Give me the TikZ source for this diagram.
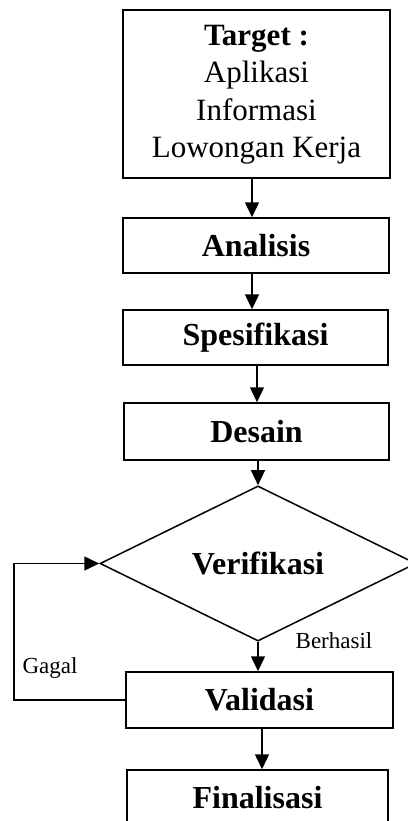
\documentclass[tikz,border=0pt]{standalone}
\usepackage{fontspec}
\setmainfont{Liberation Serif}
\usetikzlibrary{shapes.geometric,arrows.meta}
\begin{document}
\begin{tikzpicture}[x=1pt,y=-1pt,
  box/.style={draw,line width=1.5pt,rectangle,inner sep=0pt,align=center,
    font=\fontsize{32}{37.5}\selectfont},
  arr/.style={line width=1.5pt,-{Triangle[length=15pt,width=14pt]}},
  lbl/.style={font=\fontsize{23}{27}\selectfont,inner sep=0pt}]
\useasboundingbox (0,0) rectangle (407,821);
\node[box,minimum width=267pt,minimum height=168pt,font=\fontsize{31}{37.5}\selectfont] (t) at (256.5,94)
  {\raisebox{-4pt}{\begin{tabular}{@{}c@{}}\textbf{Target :}\\Aplikasi\\Informasi\\Lowongan Kerja\end{tabular}}};
\node[box,minimum width=266pt,minimum height=55pt] (an) at (256,245.5) {\textbf{Analisis}};
\node[box,minimum width=265pt,minimum height=55pt] (sp) at (255.5,337.5) {\textbf{Spesifikasi}};
\node[box,minimum width=265pt,minimum height=57pt] (de) at (256.5,431.5) {\textbf{Desain}};
\node[draw,line width=1.5pt,diamond,inner sep=0pt,minimum width=316pt,minimum height=133pt,
  font=\fontsize{32}{37.5}\selectfont] (ve) at (258,563.5) {\textbf{Verifikasi}};
\node[box,minimum width=267pt,minimum height=56pt] (va) at (259.5,700) {\textbf{Validasi}};
\node[box,minimum width=261pt,minimum height=56pt] (fi) at (257.5,798) {\textbf{Finalisasi}};
\draw[arr] ([xshift=-4.5pt]t.south) -- ([xshift=-4pt]an.north);
\draw[arr] ([xshift=-4pt]an.south) -- ([xshift=-3.5pt]sp.north);
\draw[arr] ([xshift=1.5pt]sp.south) -- ([xshift=0.5pt]de.north);
\draw[arr] ([xshift=1.5pt]de.south) -- (ve.north);
\draw[arr] (ve.south) -- ([xshift=-1.5pt]va.north);
\draw[arr] ([xshift=2.5pt]va.south) -- ([xshift=4.5pt]fi.north);
\coordinate (lp) at (14,700);
\draw[arr] (va.west) -- (lp) |- (ve.west);
\node[lbl] (g) at (50,668) {Gagal};
\node[lbl] (b) at (334,641) {Berhasil};
\end{tikzpicture}
\end{document}
